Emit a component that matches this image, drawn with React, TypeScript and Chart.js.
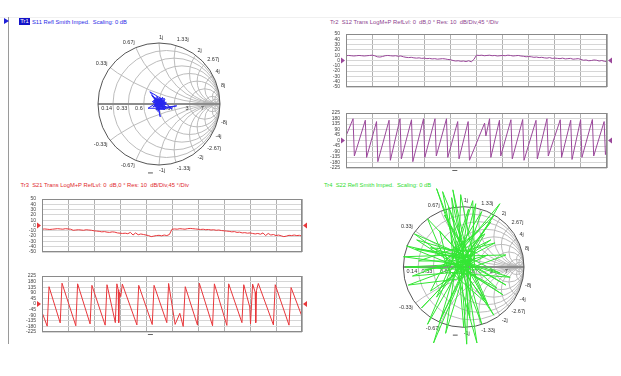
import React, { useEffect, useRef } from "react";
import { Chart, registerables } from "chart.js";

Chart.register(...registerables);

const FONT = '"Liberation Sans", Arial, Helvetica, sans-serif';

// ---------------- DATA ----------------
// Log magnitude traces, 101 sweep points spread over 10 divisions (dB)
const tr2Mag = [
  9, 9.5, 9, 8.5, 9, 9.5, 9, 8.5, 9, 9.5, 10,
  9, 7, 6.5, 7.5, 9, 9.5, 9, 8.5, 9, 8,
  8.5, 7, 6, 5.5, 6, 5, 4.5, 5, 4, 4.5,
  3.5, 4, 3, 3.5, 2.5, 3, 3.5, 3, 2, 1.5,
  0, -1, -0.5, -1.5, -1, -2, -0.5, -2.5, 2, 10,
  9.5, 10, 9, 9.5, 10, 9, 9.5, 8.5, 9, 9.5,
  9, 10, 9.5, 8.5, 9, 9.5, 8.5, 8, 7, 7.5,
  7, 6, 6.5, 5.5, 6, 5, 4.5, 5.5, 4, 4.5,
  4, 3.5, 4.5, 3, 3.5, 4, 2.5, 3, 3.5, 2,
  0.5, 1, -0.5, 0, 1, 0.5, -1, 0, -1.5, -2,
];
const tr3Mag = [
  -7, -6.5, -7, -7.5, -7, -6.5, -6, -6.5, -7, -6, -6.5,
  -7, -9, -8.5, -8, -8.5, -9, -8, -8.5, -9, -10,
  -10.5, -11, -12, -11.5, -12.5, -13, -12, -12.5, -14, -14.5,
  -15, -14.5, -15.5, -13, -18, -14, -17.5, -16, -17, -18,
  -19, -21, -20, -19, -18.5, -19.5, -18, -19, -17, -7,
  -6.5, -7, -6, -6.5, -7, -6, -5.5, -6, -6.5, -7,
  -7.5, -7, -8, -7.5, -8.5, -8, -9, -8.5, -9.5, -10,
  -10.5, -11, -12, -11.5, -13, -12.5, -14, -13.5, -14.5, -14,
  -15, -16, -15, -16.5, -14, -19, -15, -18, -17, -19,
  -18, -19.5, -21, -20, -18.5, -19, -18, -19, -18.5, -20,
];

// Phase traces: position (divisions) and phase (deg)
const tr2PhaseX = [0, 0.27, 0.32, 0.74, 0.79, 1.17, 1.22, 1.65, 1.7, 2.07, 2.12, 2.51, 2.56, 2.97, 3.02, 3.41, 3.46, 3.85, 3.9, 4.28, 4.33, 4.68, 4.73, 5.31, 5.36, 5.5, 5.55, 5.88, 5.93, 6.32, 6.37, 6.77, 6.82, 7.28, 7.33, 7.7, 7.75, 8.21, 8.26, 8.61, 8.66, 8.99, 9.04, 9.44, 9.49, 9.89, 9.94, 10];
const tr2PhaseY = [37, 178, -127, 166, -138, 155, -173, 166, -162, 178, -150, 170, -173, 178, -138, 178, -127, 178, -138, 155, -150, 155, -162, 142, 37, 178, -138, 166, -127, 170, -150, 172, -162, 165, -150, 178, -127, 170, -138, 166, -155, 170, -138, 172, -127, 155, -115, -70];

const tr3PhaseX = [0, 0.2, 0.27, 0.7, 0.77, 1.3, 1.37, 1.85, 1.92, 2.43, 2.5, 2.82, 2.88, 2.93, 2.95, 2.98, 3.03, 3.09, 3.65, 3.72, 4.24, 4.31, 4.8, 4.87, 5.12, 5.3, 5.43, 5.51, 5.98, 6.05, 6.56, 6.63, 7.11, 7.18, 7.69, 7.76, 7.99, 8.02, 8.1, 8.2, 8.22, 8.25, 8.32, 8.9, 8.97, 9.5, 9.58, 10];
const tr3PhaseY = [-66, -178, 139, -152, 167, -175, 162, -160, 150, -170, 155, -150, 162, 115, -150, 95, 60, 160, -168, 150, -165, 150, -150, 165, -164, -75, -180, 139, -170, 167, -175, 162, -172, 162, -150, 155, -24, -160, 160, 95, -150, 110, 165, -168, 155, -170, 132, -101];

// S11 reflection (real, imaginary of gamma)
const s11Re = [0.00, -0.06, 0.07, -0.03, 0.05, -0.15, -0.02, 0.09, -0.08, 0.04, 0.29, 0.06, -0.05, 0.02, -0.01, 0.10, -0.09, 0.03, -0.04, 0.08, -0.18, 0.01, 0.11, -0.07, 0.04, -0.10, 0.06, -0.02, 0.12, -0.06, 0.02, 0.22, 0.05, -0.08, 0.00, 0.09, -0.11, 0.03, -0.04, 0.07, -0.12, 0.01, 0.10, -0.05, 0.04, 0.00, -0.03, 0.08, -0.07, 0.05, -0.02, 0.10, -0.09, 0.03, 0.06, -0.05, 0.12, -0.08, 0.02];
const s11Im = [0.02, 0.06, -0.02, -0.08, 0.08, 0.20, 0.03, 0.04, -0.03, -0.09, -0.03, -0.06, 0.09, -0.21, -0.04, 0.07, 0.02, 0.10, -0.10, -0.07, -0.07, 0.05, -0.01, 0.08, 0.03, -0.05, 0.11, -0.12, 0.03, 0.00, 0.08, -0.08, -0.03, 0.10, -0.07, 0.09, 0.04, -0.05, 0.12, 0.01, 0.14, -0.02, -0.09, -0.06, 0.06, 0.00, 0.07, -0.04, -0.01, 0.09, -0.09, 0.03, 0.06, -0.06, 0.05, -0.03, -0.05, 0.11, 0.01];

// S22 reflection (real, imaginary of gamma)
const s22Re = [-0.05, -0.45, 0.02, 0.60, -0.10, -1.00, 0.10, -0.18, 0.05, 0.22, -0.15, 0.52, -0.05, -0.50, 0.10, -0.82, 0.00, 0.65, -0.20, 0.30, -0.10, -0.92, 0.15, -0.32, 0.05, 0.40, -0.25, 0.08, -0.05, -0.70, 0.20, -0.55, 0.00, 0.30, -0.10, 0.77, -0.15, -0.30, 0.05, -0.97, 0.20, -0.05, -0.08, 0.55, -0.12, -0.78, 0.12, 0.10, -0.02, 0.45, -0.20, -0.60, 0.08, 0.00, -0.10, 0.70, -0.05, -0.85, 0.15, -0.40, 0.02, 0.35, -0.18, -0.25, 0.06, 0.50, -0.08, -0.65, 0.18, 0.15, -0.12, -0.45, 0.00, -0.30, 0.25, -0.15, -0.75, 0.05, 0.40, -0.10, -0.20, 0.00, 0.60, -0.25, -0.55, 0.10, 0.20, -0.05, -0.95, 0.15, 0.35, -0.12, -0.35, 0.05, 0.45, -0.20, -0.60, 0.00, 0.70, -0.15, -0.80, 0.08, 0.05, -0.05, 0.50, -0.28, -0.40, 0.12];
const s22Im = [0.10, 1.30, 0.05, 1.05, 0.20, 0.17, 0.02, 1.28, -0.12, -1.26, 0.05, 0.40, 0.25, -1.26, 0.15, 0.55, -0.05, -0.46, 0.10, 0.92, -0.20, -0.30, 0.10, 0.86, 0.20, -0.62, -0.05, 0.96, 0.00, -0.68, 0.25, 0.32, 0.15, -0.95, 0.10, -0.17, -0.10, -1.10, 0.05, 0.00, -0.05, 1.20, 0.22, -0.35, 0.02, 0.45, 0.18, -0.85, 0.12, 0.75, -0.15, 0.80, 0.08, -1.00, 0.18, 0.20, -0.08, -0.15, 0.22, -0.90, 0.00, 0.55, 0.15, 1.00, -0.02, -0.80, 0.06, -0.05, 0.12, 1.10, 0.25, -0.50, 0.08, 0.05, 0.60, 0.30, 0.10, 0.10, 0.20, -0.05, 1.15, 0.20, -0.10, 0.18, -0.40, 0.05, 1.05, 0.15, 0.35, -0.10, -0.55, 0.08, 1.25, 0.25, 0.45, -0.02, -0.95, 0.10, -0.30, 0.22, 0.30, 0.12, -1.28, 0.05, 0.85, 0.12, 0.60, 0.00];

// Smith grid values and labels
const resistanceValues = [0.14, 0.33, 0.6, 1, 1.67, 3, 7];
const resistanceLabels = ["0.14", "0.33", "0.6", "1", "1.67", "3", "7"];
const denseResistance = [12, 25];
const reactanceValues = [0.33, 0.67, 1, 1.33, 2, 2.67, 4, 8];
const reactanceLabels = ["0.33j", "0.67j", "1j", "1.33j", "2j", "2.67j", "4j", "8j"];
const denseReactance = [12, 25];

const cursorDiv = 4.15; // cursor dash position on rectangular plots
const cursorRe = -0.14; // cursor dash on smith charts

// ---------------- PLUGINS ----------------
const scopeDeco = {
  id: "scopeDeco",
  afterDraw(chart: any, _args: any, opts: any) {
    const { ctx } = chart;
    const { left, right, top, bottom } = chart.chartArea;
    const ys = chart.scales.y.getPixelForValue(0);
    ctx.save();
    ctx.strokeStyle = "#8a8a8a";
    ctx.lineWidth = 1;
    ctx.strokeRect(Math.round(left) + 0.5, Math.round(top) + 0.5, Math.round(right - left) - 1, Math.round(bottom - top) - 1);
    ctx.fillStyle = opts.color;
    ctx.beginPath();
    ctx.moveTo(left - 5, ys - 3);
    ctx.lineTo(left - 1, ys);
    ctx.lineTo(left - 5, ys + 3);
    ctx.closePath();
    ctx.fill();
    ctx.beginPath();
    ctx.moveTo(right + 5, ys - 3);
    ctx.lineTo(right + 1, ys);
    ctx.lineTo(right + 5, ys + 3);
    ctx.closePath();
    ctx.fill();
    if (opts.dash) {
      const cx = chart.scales.x.getPixelForValue(cursorDiv);
      ctx.strokeStyle = "#666";
      ctx.beginPath();
      ctx.moveTo(cx - 2, bottom + 2.5);
      ctx.lineTo(cx + 3, bottom + 2.5);
      ctx.stroke();
    }
    ctx.restore();
  },
};

const smithGrid = {
  id: "smithGrid",
  beforeDatasetsDraw(chart: any) {
    const { ctx } = chart;
    const X = (v: number) => chart.scales.x.getPixelForValue(v);
    const Y = (v: number) => chart.scales.y.getPixelForValue(v);
    const ox = X(0);
    const oy = Y(0);
    const R = X(1) - ox;
    ctx.save();
    ctx.beginPath();
    ctx.arc(ox, oy, R, 0, Math.PI * 2);
    ctx.clip();
    ctx.strokeStyle = "#b4b4b4";
    ctx.lineWidth = 0.9;
    for (const r of [...resistanceValues, ...denseResistance]) {
      ctx.beginPath();
      ctx.arc(X(r / (1 + r)), oy, R / (1 + r), 0, Math.PI * 2);
      ctx.stroke();
    }
    for (const x of [...reactanceValues, ...denseReactance]) {
      for (const s of [1, -1]) {
        ctx.beginPath();
        ctx.arc(X(1), Y(s / x), R / x, 0, Math.PI * 2);
        ctx.stroke();
      }
    }
    ctx.restore();
    ctx.save();
    ctx.strokeStyle = "#8c8c8c";
    ctx.lineWidth = 2;
    ctx.beginPath();
    ctx.moveTo(X(-1), oy);
    ctx.lineTo(X(1), oy);
    ctx.stroke();
    ctx.strokeStyle = "#555";
    ctx.lineWidth = 1;
    ctx.beginPath();
    ctx.arc(ox, oy, R, 0, Math.PI * 2);
    ctx.stroke();
    ctx.font = `5.5px ${FONT}`;
    ctx.fillStyle = "#333";
    ctx.textAlign = "right";
    ctx.textBaseline = "top";
    resistanceValues.forEach((r, i) => {
      ctx.fillText(resistanceLabels[i], X((r - 1) / (r + 1)) - 1, oy + 1.5);
    });
    reactanceValues.forEach((x, i) => {
      for (const s of [1, -1]) {
        const d = x * x + 1;
        const gr = (x * x - 1) / d;
        const gi = (s * 2 * x) / d;
        const px = X(gr) + 3 * gr;
        const py = Y(gi) - 3 * gi;
        ctx.textAlign = gr < -0.05 ? "right" : "left";
        ctx.textBaseline = s > 0 ? "bottom" : "top";
        ctx.fillText((s < 0 ? "-" : "") + reactanceLabels[i], px, py);
      }
    });
    ctx.strokeStyle = "#555";
    ctx.beginPath();
    ctx.moveTo(X(cursorRe - 0.04), Y(-1.13));
    ctx.lineTo(X(cursorRe + 0.04), Y(-1.13));
    ctx.stroke();
    ctx.restore();
  },
};

// ---------------- COMPONENTS ----------------
type Box = { x0: number; y0: number; x1: number; y1: number };

function RectScope(props: {
  box: Box;
  xs: number[];
  ys: number[];
  color: string;
  yMin: number;
  yMax: number;
  yStep: number;
  dash: boolean;
}) {
  const { box, xs, ys, color, yMin, yMax, yStep, dash } = props;
  const ref = useRef<HTMLCanvasElement>(null);
  const AXW = 26, PT = 4, PB = 5, PR = 8;
  const w = box.x1 - box.x0 + AXW + PR;
  const h = box.y1 - box.y0 + PT + PB;
  useEffect(() => {
    const chart = new Chart(ref.current as HTMLCanvasElement, {
      type: "line",
      data: {
        datasets: [
          {
            data: xs.map((x, i) => ({ x, y: ys[i] })),
            borderColor: color,
            borderWidth: 1,
            pointRadius: 0,
            tension: 0,
            fill: false,
          },
        ],
      },
      options: {
        animation: false,
        responsive: false,
        maintainAspectRatio: false,
        events: [],
        layout: { padding: { top: PT, bottom: PB, right: PR, left: 0 } },
        plugins: {
          legend: { display: false },
          tooltip: { enabled: false },
          scopeDeco: { color, dash },
        } as any,
        scales: {
          x: {
            type: "linear",
            min: 0,
            max: 10,
            ticks: { display: false, stepSize: 1 },
            grid: { color: "#b0b0b0", drawTicks: false },
            border: { display: false },
            afterFit: (s: any) => {
              s.height = 0;
            },
          },
          y: {
            type: "linear",
            min: yMin,
            max: yMax,
            ticks: { stepSize: yStep, font: { size: 5, family: FONT }, color: "#444", padding: 6, autoSkip: false },
            grid: { color: "#d6d6d6", drawTicks: false },
            border: { display: false },
            afterFit: (s: any) => {
              s.width = AXW;
            },
          },
        },
      } as any,
      plugins: [scopeDeco],
    });
    return () => chart.destroy();
  }, []);
  return (
    <canvas
      ref={ref}
      width={w}
      height={h}
      style={{ position: "absolute", left: box.x0 - AXW, top: box.y0 - PT, width: w, height: h }}
    />
  );
}

function SmithScope(props: {
  cx: number;
  cy: number;
  R: number;
  left: number;
  top: number;
  width: number;
  height: number;
  re: number[];
  im: number[];
  color: string;
}) {
  const { cx, cy, R, left, top, width, height, re, im, color } = props;
  const ref = useRef<HTMLCanvasElement>(null);
  useEffect(() => {
    const chart = new Chart(ref.current as HTMLCanvasElement, {
      type: "scatter",
      data: {
        datasets: [
          {
            data: re.map((x, i) => ({ x, y: im[i] })),
            showLine: true,
            borderColor: color,
            borderWidth: 1,
            pointRadius: 0,
            tension: 0,
          },
        ],
      },
      options: {
        animation: false,
        responsive: false,
        maintainAspectRatio: false,
        events: [],
        layout: { padding: 0 },
        plugins: { legend: { display: false }, tooltip: { enabled: false } },
        scales: {
          x: { type: "linear", display: false, min: (left - cx) / R, max: (left + width - cx) / R },
          y: { type: "linear", display: false, min: (cy - top - height) / R, max: (cy - top) / R },
        },
      } as any,
      plugins: [smithGrid],
    });
    return () => chart.destroy();
  }, []);
  return (
    <canvas
      ref={ref}
      width={width}
      height={height}
      style={{ position: "absolute", left, top, width, height }}
    />
  );
}

function Title(props: { x: number; y: number; color: string; text: string }) {
  return (
    <div
      style={{
        position: "absolute",
        left: props.x,
        top: props.y - 3,
        fontSize: 5.8,
        lineHeight: "6px",
        fontFamily: FONT,
        color: props.color,
        whiteSpace: "pre",
      }}
    >
      {props.text}
    </div>
  );
}

const magX = tr2Mag.map((_, i) => i / 10);

export default function App() {
  return (
    <div
      style={{
        position: "absolute",
        left: 0,
        top: 0,
        width: 621,
        height: 376,
        background: "#fff",
        overflow: "hidden",
        fontFamily: FONT,
      }}
    >
      <div style={{ position: "absolute", left: 0, top: 17, width: 621, height: 1, background: "#f0f0f0" }} />
      <div style={{ position: "absolute", left: 8, top: 17, width: 1, height: 327, background: "#9a9a9a" }} />

      {/* Tr1 title */}
      <div
        style={{
          position: "absolute",
          left: 4,
          top: 18,
          width: 0,
          height: 0,
          borderTop: "3px solid transparent",
          borderBottom: "3px solid transparent",
          borderLeft: "5px solid #1f1fd8",
        }}
      />
      <div
        style={{
          position: "absolute",
          left: 19,
          top: 18,
          width: 11,
          height: 7,
          background: "#1414c8",
          color: "#fff",
          fontSize: 5.8,
          lineHeight: "7px",
          textAlign: "center",
          fontFamily: FONT,
        }}
      >
        Tr1
      </div>
      <Title x={32} y={21.5} color="#2a2ae6" text={"S11 Refl Smith Imped.  Scaling: 0 dB"} />
      <Title x={330} y={22} color="#8e3f8e" text={"Tr2  S12 Trans LogM+P RefLvl: 0  dB,0 ° Res: 10  dB/Div,45 °/Div"} />
      <Title x={20.5} y={185} color="#e0282c" text={"Tr3  S21 Trans LogM+P RefLvl: 0  dB,0 ° Res: 10  dB/Div,45 °/Div"} />
      <Title x={324} y={185} color="#2fdc2f" text={"Tr4  S22 Refl Smith Imped.  Scaling: 0 dB"} />

      <SmithScope cx={159} cy={104} R={61} left={60} top={30} width={200} height={150} re={s11Re} im={s11Im} color="#2626f0" />
      <SmithScope cx={463.7} cy={267} R={60.3} left={380} top={183} width={170} height={172} re={s22Re} im={s22Im} color="#33e633" />

      <RectScope box={{ x0: 346, y0: 29, x1: 607, y1: 91 }} xs={magX} ys={tr2Mag} color="#9a479a" yMin={-50} yMax={50} yStep={10} dash={false} />
      <RectScope box={{ x0: 346, y0: 108, x1: 607, y1: 172 }} xs={tr2PhaseX} ys={tr2PhaseY} color="#9a479a" yMin={-225} yMax={225} yStep={45} dash={true} />
      <RectScope box={{ x0: 42, y0: 194, x1: 302, y1: 256 }} xs={magX} ys={tr3Mag} color="#e8363a" yMin={-50} yMax={50} yStep={10} dash={false} />
      <RectScope box={{ x0: 42, y0: 271, x1: 302, y1: 336 }} xs={tr3PhaseX} ys={tr3PhaseY} color="#e8363a" yMin={-225} yMax={225} yStep={45} dash={true} />
    </div>
  );
}
